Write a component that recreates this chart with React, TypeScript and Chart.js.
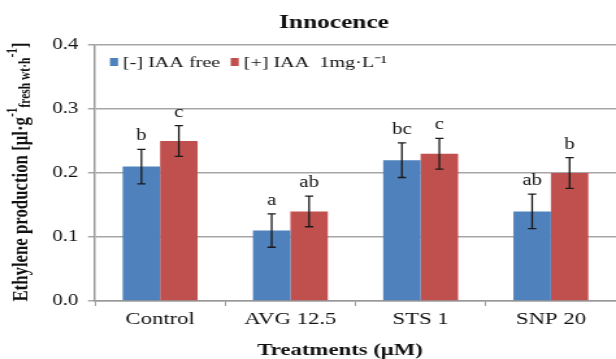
import React, { useEffect, useRef } from "react";
import { Chart, registerables } from "chart.js";

Chart.register(...registerables);

const categories = ["Control", "AVG 12.5", "STS 1", "SNP 20"];
const seriesNames = ["[-] IAA free", "[+] IAA  1mg·L⁻¹"];
const iaaFree = [0.21, 0.11, 0.22, 0.14];
const iaaPlus = [0.25, 0.14, 0.23, 0.2];
const errFree = [0.027, 0.026, 0.027, 0.027];
const errPlus = [0.024, 0.024, 0.024, 0.024];
const lettersFree = ["b", "a", "bc", "ab"];
const lettersPlus = ["c", "ab", "c", "b"];
const yTicks = [0, 0.1, 0.2, 0.3, 0.4];
const colors = ["#4f81bd", "#c0504d"];

const SERIF = "'Liberation Serif', 'Times New Roman', serif";
// the reference is horizontally stretched; draw on a narrower canvas and stretch with CSS
const OUT_W = 616;
const OUT_H = 359;
const LOG_W = 474;
const S = OUT_W / LOG_W;

const overlay = {
  id: "overlay",
  afterDatasetsDraw(chart: any) {
    const ctx = chart.ctx;
    const y = chart.scales.y;
    const errs = [errFree, errPlus];
    const letters = [lettersFree, lettersPlus];
    ctx.save();
    chart.data.datasets.forEach((ds: any, di: number) => {
      const meta = chart.getDatasetMeta(di);
      meta.data.forEach((bar: any, i: number) => {
        const v = ds.data[i];
        const e = errs[di][i];
        const yt = y.getPixelForValue(v + e);
        const yb = y.getPixelForValue(v - e);
        const x = bar.x;
        ctx.strokeStyle = "#1a1a1a";
        ctx.lineWidth = 1.3;
        ctx.beginPath();
        ctx.moveTo(x, yt);
        ctx.lineTo(x, yb);
        ctx.moveTo(x - 3.2, yt);
        ctx.lineTo(x + 3.2, yt);
        ctx.moveTo(x - 3.2, yb);
        ctx.lineTo(x + 3.2, yb);
        ctx.stroke();
        ctx.fillStyle = "#111";
        ctx.font = `16px ${SERIF}`;
        ctx.textAlign = "center";
        ctx.textBaseline = "alphabetic";
        ctx.fillText(letters[di][i], x, yt - 9);
      });
    });

    // legend inside plot
    ctx.font = `15.5px ${SERIF}`;
    ctx.textBaseline = "middle";
    ctx.textAlign = "left";
    const legX = [84.6, 177.5];
    const ly = 62;
    seriesNames.forEach((name, i) => {
      ctx.fillStyle = colors[i];
      ctx.fillRect(legX[i], ly - 4, 6.2, 8);
      ctx.fillStyle = "#111";
      ctx.fillText(name, legX[i] + 10, ly + 1);
    });

    // title
    ctx.font = `bold 19.5px ${SERIF}`;
    ctx.textAlign = "center";
    ctx.textBaseline = "alphabetic";
    ctx.fillStyle = "#111";
    ctx.fillText("Innocence", 334 / S, 28);

    // x title
    ctx.font = `bold 17.5px ${SERIF}`;
    ctx.textBaseline = "middle";
    ctx.fillText("Treatments (μM)", 340 / S, 350);

    // y title rotated with sup/sub
    const parts: [string, string][] = [
      ["Ethylene production [μl·g", "n"],
      ["-1", "sup"],
      ["fresh wt·h", "sub"],
      ["-1", "sup"],
      ["]", "n"],
    ];
    const big = `bold 16.8px ${SERIF}`;
    const small = `bold 11.5px ${SERIF}`;
    let total = 0;
    parts.forEach(([t, k]) => {
      ctx.font = k === "n" ? big : small;
      total += ctx.measureText(t).width;
    });
    ctx.save();
    ctx.translate(15.5, 172);
    ctx.rotate(-Math.PI / 2);
    ctx.textAlign = "left";
    ctx.textBaseline = "alphabetic";
    let px = -total / 2;
    parts.forEach(([t, k]) => {
      ctx.font = k === "n" ? big : small;
      const dy = k === "sup" ? -7.5 : k === "sub" ? 2.5 : 0;
      ctx.fillText(t, px, 5 + dy);
      px += ctx.measureText(t).width;
    });
    ctx.restore();
    ctx.restore();
  },
};

export default function App() {
  const ref = useRef<HTMLCanvasElement>(null);
  useEffect(() => {
    if (!ref.current) return;
    const chart = new Chart(ref.current, {
      type: "bar",
      data: {
        labels: categories,
        datasets: [
          { label: seriesNames[0], data: iaaFree, backgroundColor: colors[0], borderWidth: 0 },
          { label: seriesNames[1], data: iaaPlus, backgroundColor: colors[1], borderWidth: 0 },
        ],
      },
      options: {
        animation: false,
        responsive: false,
        maintainAspectRatio: false,
        devicePixelRatio: 1,
        layout: { padding: { top: 45, left: 0, right: 0, bottom: 0 } },
        datasets: { bar: { categoryPercentage: 0.575, barPercentage: 1 } },
        plugins: { legend: { display: false }, tooltip: { enabled: false }, title: { display: false } },
        scales: {
          x: {
            grid: { drawOnChartArea: false, drawTicks: true, tickLength: 5, color: "#999", offset: true },
            border: { color: "#999", width: 1.5 },
            ticks: { font: { family: SERIF, size: 17.5 }, color: "#111", padding: 3 },
            afterFit: (s: any) => { s.height = 58; },
          },
          y: {
            min: 0,
            max: 0.4,
            afterBuildTicks: (s: any) => { s.ticks = yTicks.map((v) => ({ value: v })); },
            grid: { color: "#a6a6a6", lineWidth: 1.5, tickLength: 5.4 },
            border: { color: "#999", width: 1.5 },
            ticks: {
              font: { family: SERIF, size: 16 },
              color: "#111",
              padding: 7.5,
              callback: (v: any) => Number(v).toFixed(1),
            },
            afterFit: (s: any) => { s.width = 95 / S; },
          },
        },
      },
      plugins: [overlay],
    });
    return () => chart.destroy();
  }, []);
  return (
    <div style={{ position: "fixed", left: 0, top: 0, width: OUT_W, height: OUT_H, background: "#fff" }}>
      <canvas ref={ref} width={LOG_W} height={OUT_H} style={{ width: OUT_W, height: OUT_H, display: "block" }} />
    </div>
  );
}
